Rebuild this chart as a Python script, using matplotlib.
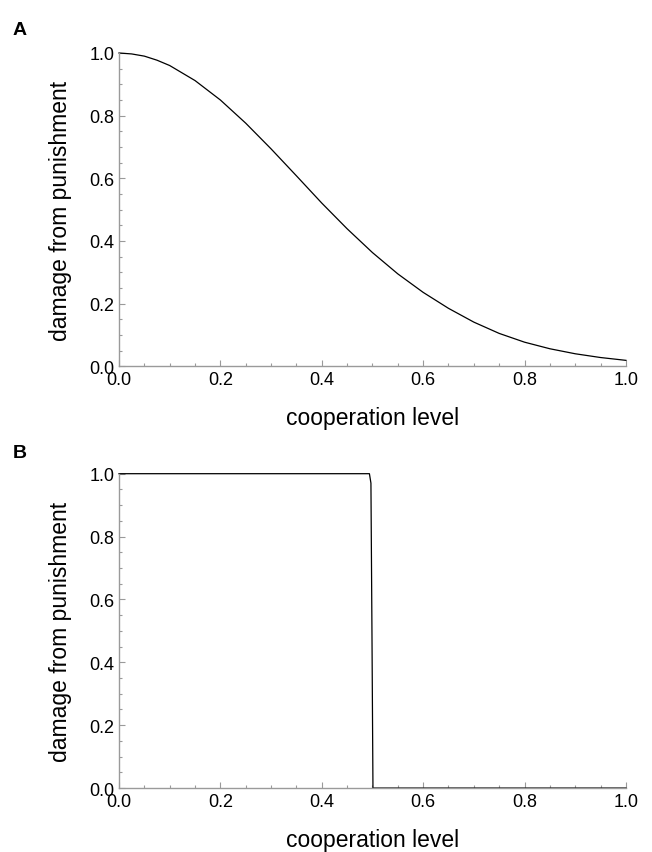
"""
Two-panel punishment damage curves (A: smooth decline, B: step at 0.5).
"""

import matplotlib
matplotlib.use("Agg")
import matplotlib.pyplot as plt
from matplotlib.ticker import MultipleLocator

# panel A: values
COOP_A = [0.000, 0.025, 0.050, 0.075, 0.100, 0.150, 0.200, 0.250, 0.300, 0.350, 0.400,
          0.450, 0.500, 0.550, 0.600, 0.650, 0.700, 0.750, 0.800, 0.850, 0.900,
          0.950, 1.000]
DAMAGE_A = [1.000, 0.997, 0.990, 0.977, 0.960, 0.912, 0.850, 0.776, 0.694, 0.608, 0.521,
            0.439, 0.363, 0.295, 0.236, 0.185, 0.141, 0.105, 0.077, 0.056, 0.040,
            0.028, 0.019]

# panel B: near-step function at 0.5
COOP_B = [0.000, 0.494, 0.497, 0.499, 0.501, 1.000]
DAMAGE_B = [1.000, 1.000, 0.970, 0.500, 0.000, 0.000]

TICKS = [0.0, 0.2, 0.4, 0.6, 0.8, 1.0]
TICK_LABELS = ["0.0", "0.2", "0.4", "0.6", "0.8", "1.0"]

XLABEL = "cooperation level"
YLABEL = "damage from punishment"

plt.rcParams["font.family"] = ["Liberation Sans", "DejaVu Sans"]

SPINE = "#9a9a9a"


def style_axes(ax):
    ax.set_xlim(0, 1)
    ax.set_ylim(0, 1)
    for side in ("top", "right"):
        ax.spines[side].set_visible(False)
    for side in ("left", "bottom"):
        ax.spines[side].set_color(SPINE)
        ax.spines[side].set_linewidth(1.0)
    ax.set_xticks(TICKS)
    ax.set_xticklabels(TICK_LABELS)
    ax.set_yticks(TICKS)
    ax.set_yticklabels(TICK_LABELS)
    ax.xaxis.set_minor_locator(MultipleLocator(0.05))
    ax.yaxis.set_minor_locator(MultipleLocator(0.05))
    ax.tick_params(which="both", direction="in", color=SPINE, width=0.8,
                   labelsize=13, labelcolor="black", pad=3.5)
    ax.tick_params(which="major", length=4)
    ax.tick_params(which="minor", length=2.3)
    ax.set_xlabel(XLABEL, fontsize=16.5, labelpad=13)
    ax.set_ylabel(YLABEL, fontsize=16.5, labelpad=12)


fig = plt.figure(figsize=(6.52, 8.53), dpi=100)
ax_a = fig.add_axes([0.1825, 0.5694, 0.7775, 0.3673])
ax_b = fig.add_axes([0.1825, 0.0750, 0.7775, 0.3685])

ax_a.plot(COOP_A, DAMAGE_A, color="black", lw=0.9, clip_on=False)
ax_b.plot(COOP_B, DAMAGE_B, color="black", lw=0.9, clip_on=False)

style_axes(ax_a)
style_axes(ax_b)

fig.text(0.019, 0.974, "A", fontsize=14, fontweight="bold", va="top")
fig.text(0.019, 0.478, "B", fontsize=14, fontweight="bold", va="top")

fig.savefig("out.png", dpi=100)
